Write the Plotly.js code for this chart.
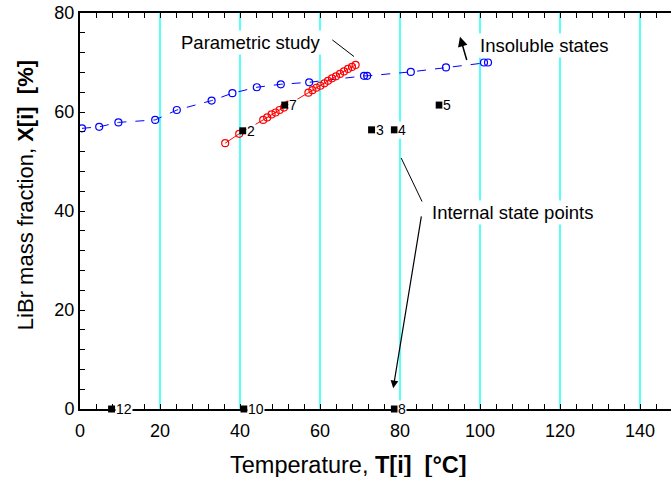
<!DOCTYPE html>
<html>
<head>
<meta charset="utf-8">
<script src="https://cdn.plot.ly/plotly-3.0.1.min.js"></script>
<style>
html,body{margin:0;padding:0;overflow:hidden;background:#fff;}
#chart{width:700px;height:477px;}
</style>
</head>
<body>
<div id="chart"></div>
<script>
// Insoluble states (blue dashed curve)
const insolT = [0.5, 4.8, 9.6, 18.8, 24.2, 32.9, 38.1, 44.2, 50.2, 57.3, 71.0, 71.8, 82.7, 91.5, 101.0, 102.0];
const insolX = [56.7, 57.0, 57.9, 58.4, 60.4, 62.3, 63.8, 65.0, 65.6, 66.0, 67.3, 67.3, 68.1, 69.0, 70.0, 70.0];

// Parametric study (red curve)
const paramT = [36.3, 39.8, 45.8, 46.8, 47.9, 48.9, 49.9, 51.0, 52.1, 57.1, 58.1, 59.1, 60.1, 61.1, 62.0, 63.0, 64.0, 65.0, 66.0, 67.0, 68.0, 68.9];
const paramX = [53.7, 55.6, 58.4, 58.9, 59.5, 59.9, 60.4, 60.9, 61.5, 63.9, 64.4, 64.9, 65.3, 65.8, 66.3, 66.8, 67.2, 67.7, 68.2, 68.7, 69.1, 69.5];

// Internal state points
const stateLabels = ["2", "7", "3", "4", "5", "12", "10", "8"];
const stateT = [40.7, 51.2, 72.9, 78.6, 89.8, 7.9, 41.0, 78.6];
const stateX = [56.2, 61.4, 56.4, 56.4, 61.4, 0.0, 0.0, 0.0];

// Axis ticks
const xTicks = [0, 20, 40, 60, 80, 100, 120, 140];
const yTicks = [0, 20, 40, 60, 80];

const FONT = "Arial, 'Liberation Sans', sans-serif";

const traces = [
  {
    x: insolT, y: insolX, type: "scatter", mode: "lines+markers",
    line: {color: "#0000ff", width: 1, dash: "dash"},
    marker: {symbol: "circle-open", size: 7, color: "#0000ff", line: {width: 1.2}},
    cliponaxis: false, hoverinfo: "skip"
  },
  {
    x: paramT, y: paramX, type: "scatter", mode: "lines+markers",
    line: {color: "#ff0000", width: 1},
    marker: {symbol: "circle-open", size: 7, color: "#ff0000", line: {width: 1.2}},
    hoverinfo: "skip"
  },
  {
    x: stateT, y: stateX, type: "scatter", mode: "markers",
    marker: {symbol: "square", size: 7, color: "#000000"},
    cliponaxis: false, hoverinfo: "skip"
  }
];

const annotations = [];
for (let i = 0; i < stateLabels.length; i++) {
  annotations.push({
    x: stateT[i], y: stateX[i], xref: "x", yref: "y",
    text: stateLabels[i], showarrow: false,
    xanchor: "left", yanchor: "middle", xshift: 3,
    font: {family: FONT, size: 14, color: "#000"},
    bgcolor: "#ffffff", borderpad: 0
  });
}
// Text labels with pointers
annotations.push({
  x: 42.8, y: 74.1, xref: "x", yref: "y", text: "Parametric study", showarrow: false,
  font: {family: FONT, size: 18.5, color: "#000"}, bgcolor: "#ffffff", borderpad: 1
});
annotations.push({
  x: 68.5, y: 71.2, ax: 62.7, ay: 74.8, xref: "x", yref: "y", axref: "x", ayref: "y",
  text: "", showarrow: true, arrowhead: 0, arrowwidth: 1, arrowcolor: "#000"
});
annotations.push({
  x: 99.6, y: 73.5, xref: "x", yref: "y", text: "Insoluble states", showarrow: false,
  xanchor: "left", font: {family: FONT, size: 18.5, color: "#000"}, bgcolor: "#ffffff", borderpad: 1
});
annotations.push({
  x: 95.0, y: 75.2, ax: 96.8, ay: 70.2, xref: "x", yref: "y", axref: "x", ayref: "y",
  text: "", showarrow: true, arrowhead: 2, arrowsize: 1.3, arrowwidth: 1.5, arrowcolor: "#000"
});
annotations.push({
  x: 87.6, y: 39.6, xref: "x", yref: "y", text: "Internal state points", showarrow: false,
  xanchor: "left", font: {family: FONT, size: 18.5, color: "#000"}, bgcolor: "#ffffff", borderpad: 1
});
annotations.push({
  x: 80.3, y: 50.7, ax: 85.7, ay: 41.6, xref: "x", yref: "y", axref: "x", ayref: "y",
  text: "", showarrow: true, arrowhead: 0, arrowwidth: 1, arrowcolor: "#000"
});
annotations.push({
  x: 78.3, y: 4.2, ax: 85.4, ay: 39.2, xref: "x", yref: "y", axref: "x", ayref: "y",
  text: "", showarrow: true, arrowhead: 2, arrowsize: 1.3, arrowwidth: 1.2, arrowcolor: "#000"
});
// Axis titles (placed as annotations to match the reference positions)
annotations.push({
  x: 0.4467, y: -0.1414, xref: "paper", yref: "paper", showarrow: false,
  xanchor: "center", yanchor: "middle",
  text: "Temperature, <b>T[i]</b>\u00a0\u00a0<b>[°C]</b>",
  font: {family: FONT, size: 23.5, color: "#000"}
});
annotations.push({
  x: -0.0917, y: 0.540, xref: "paper", yref: "paper", showarrow: false,
  xanchor: "center", yanchor: "middle", textangle: -90,
  text: "LiBr mass fraction, <b>X[i]</b>\u00a0\u00a0<b>[%]</b>",
  font: {family: FONT, size: 22, color: "#000"}
});

const layout = {
  width: 700, height: 477,
  margin: {l: 80, r: 20, t: 13, b: 68},
  paper_bgcolor: "#ffffff", plot_bgcolor: "#ffffff",
  showlegend: false,
  font: {family: FONT, color: "#000"},
  xaxis: {
    range: [0, 150], tickvals: xTicks, ticktext: xTicks.map(String),
    showgrid: true, gridcolor: "#55ffff", gridwidth: 2, zeroline: false,
    showline: true, linecolor: "#000", linewidth: 2, mirror: "ticks",
    ticks: "inside", ticklen: 5, tickcolor: "#000", tickwidth: 1,
    minor: {dtick: 4, ticks: "inside", ticklen: 5, tickcolor: "#000", tickwidth: 1, showgrid: false},
    tickfont: {family: FONT, size: 18, color: "#000"},
    ticklabelstandoff: 4
  },
  yaxis: {
    range: [0, 80], tickvals: yTicks, ticktext: yTicks.map(String),
    showgrid: false, zeroline: false,
    showline: true, linecolor: "#000", linewidth: 2, mirror: "ticks",
    ticks: "inside", ticklen: 5, tickcolor: "#000", tickwidth: 1,
    minor: {dtick: 4, ticks: "inside", ticklen: 5, tickcolor: "#000", tickwidth: 1, showgrid: false},
    tickfont: {family: FONT, size: 18, color: "#000"}
  },
  annotations: annotations
};

Plotly.newPlot("chart", traces, layout, {staticPlot: true, displayModeBar: false});
</script>
</body>
</html>
